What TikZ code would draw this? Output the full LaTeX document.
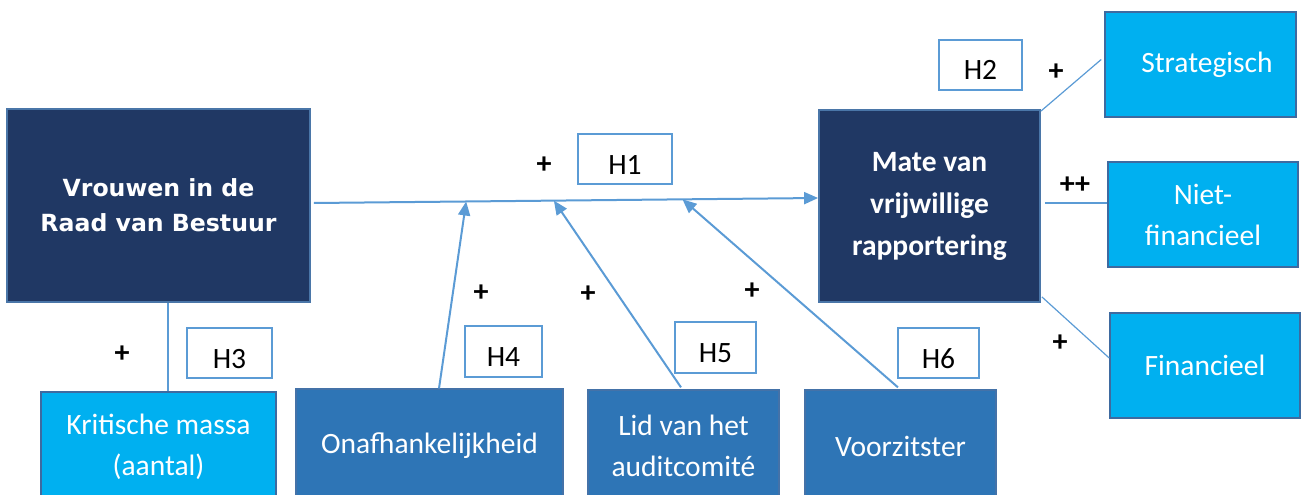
\documentclass[tikz,border=0pt]{standalone}
\usepackage{fontspec}
\setmainfont{Carlito}
\newfontfamily\verdfont{DejaVu Sans}
\usetikzlibrary{arrows.meta,calc}
\definecolor{navy}{HTML}{203864}
\definecolor{navyedge}{HTML}{4A76A8}
\definecolor{cyanfill}{HTML}{00B0F0}
\definecolor{cyanedge}{HTML}{3E6AA0}
\definecolor{midblue}{HTML}{2E75B6}
\definecolor{midedge}{HTML}{4472A8}
\definecolor{hedge}{HTML}{5B9BD5}
\definecolor{conn}{HTML}{5B9BD5}
\tikzset{
  navybox/.style={draw=navyedge, line width=1.8pt, fill=navy, text=white, inner sep=0pt, align=center},
  cyanbox/.style={draw=cyanedge, line width=1.6pt, fill=cyanfill, text=white, inner sep=0pt, align=center,
    font=\fontsize{29.5}{41}\selectfont},
  midbox/.style={draw=midedge, line width=1.2pt, fill=midblue, text=white, inner sep=0pt, align=center,
    font=\fontsize{29.5}{41}\selectfont},
  hbox/.style={draw=hedge, line width=1.6pt, fill=white, text=black, inner sep=0pt,
    font=\fontsize{29.5}{32}\selectfont, text height=30pt, text depth=0pt},
  plus/.style={font=\bfseries\fontsize{30}{32}\selectfont, inner sep=0pt},
  thinconn/.style={draw=conn, line width=1.2pt},
  arrowconn/.style={draw=conn, line width=2pt, -{Triangle[length=14pt,width=12pt]}}
}
\begin{document}
\begin{tikzpicture}[x=1pt,y=-1pt]
\useasboundingbox (0,0) rectangle (1301,495);
% main boxes
\node[navybox, minimum width=303pt, minimum height=193pt,
      font=\verdfont\bfseries\fontsize{23.6}{35}\selectfont] (vrouwen) at (158.5,205.5) {Vrouwen in de\\Raad van Bestuur};
\node[navybox, minimum width=221pt, minimum height=192pt,
      font=\bfseries\fontsize{29.5}{42}\selectfont] (mate) at (929.5,206) {Mate van\\vrijwillige\\rapportering};
% right boxes
\node[cyanbox, minimum width=191pt, minimum height=105pt] (strat) at (1200.5,64.5) {\hspace*{13pt}Strategisch};
\node[cyanbox, minimum width=190pt, minimum height=105pt] (niet) at (1203,214.5) {Niet-\\financieel};
\node[cyanbox, minimum width=190pt, minimum height=105pt] (fin) at (1205,365.5) {Financieel};
% bottom boxes
\node[cyanbox, minimum width=235pt, minimum height=110pt] (krit) at (158.5,447) {Kritische massa\\(aantal)};
\node[midbox, minimum width=267pt, minimum height=113pt] (onaf) at (429.5,445.5) {Onafhankelijkheid};
\node[midbox, minimum width=191pt, minimum height=112pt] (lid) at (683.5,446) {Lid van het\\auditcomité};
\node[midbox, minimum width=191pt, minimum height=112pt] (voor) at (900.5,446) {Voorzitster};
% hypothesis boxes
\node[hbox, minimum width=94pt, minimum height=50pt] (h1) at (625,159) {H1};
\node[hbox, minimum width=83pt, minimum height=50pt] (h2) at (980.5,65) {H2};
\node[hbox, minimum width=85pt, minimum height=50pt] (h3) at (229.5,353) {H3};
\node[hbox, minimum width=77pt, minimum height=51pt] (h4) at (503.5,351.5) {H4};
\node[hbox, minimum width=81pt, minimum height=51pt] (h5) at (715.5,347.5) {H5};
\node[hbox, minimum width=81pt, minimum height=50pt] (h6) at (938.5,353) {H6};
% signs
\node[plus] (p1) at (544,165) {+};
\node[plus] (p2) at (1056,72) {+};
\node[plus] (p3) at (1075,185) {++};
\node[plus] (p4) at (1060,343) {+};
\node[plus] (p5) at (122,354) {+};
\node[plus] (p6) at (481,293) {+};
\node[plus] (p7) at (588,294) {+};
\node[plus] (p8) at (752,291) {+};
% main arrow
\coordinate (ms) at ([xshift=3pt,yshift=2.5pt]vrouwen.east);
\coordinate (me) at ([yshift=8pt]mate.west);
\draw[arrowconn] (ms) -- (me);
\coordinate (t4) at ($(ms)!0.302!(me)$);
\coordinate (t5) at ($(ms)!0.476!(me)$);
\coordinate (t6) at ($(ms)!0.731!(me)$);
\draw[arrowconn] ([xshift=9.5pt]onaf.north) -- (t4);
\draw[arrowconn] ([xshift=-2.5pt,yshift=2pt]lid.north) -- (t5);
\draw[arrowconn] ([xshift=-2.5pt,yshift=2pt]voor.north) -- (t6);
% thin connectors
\draw[thinconn] ([xshift=9.5pt]vrouwen.south) -- ([xshift=9.5pt]krit.north);
\draw[thinconn] ([yshift=-2pt]mate.north east) -- ([xshift=-3pt,yshift=5pt]strat.west);
\draw[thinconn] ([xshift=4pt,yshift=3pt]mate.east) -- ([yshift=11.5pt]niet.west);
\draw[thinconn] ([xshift=1pt,yshift=6pt]mate.south east) -- ([yshift=7.5pt]fin.west);
\end{tikzpicture}
\end{document}
